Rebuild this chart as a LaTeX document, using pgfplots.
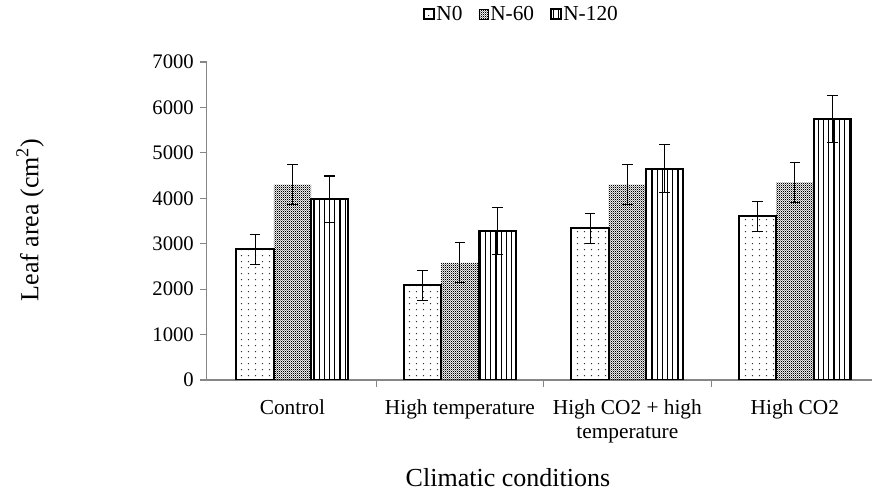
\documentclass[border=0pt]{standalone}
\usepackage{fontspec}
\setmainfont{Liberation Serif}
\usepackage{pgfplots}
\pgfplotsset{compat=1.18}
\usetikzlibrary{patterns}

% bar fills, as in the printed figure
\pgfdeclarepatternformonly{sparsedots}{\pgfpointorigin}{\pgfpoint{5pt}{4.5pt}}{\pgfpoint{5pt}{4.5pt}}{%
  \pgfpathcircle{\pgfpoint{1.2pt}{1.2pt}}{0.55pt}\pgfusepath{fill}}
\pgfdeclarepatternformonly{checker}{\pgfpointorigin}{\pgfpoint{1.6pt}{1.6pt}}{\pgfpoint{1.6pt}{1.6pt}}{%
  \pgfpathrectangle{\pgfpointorigin}{\pgfpoint{0.8pt}{0.8pt}}%
  \pgfpathrectangle{\pgfpoint{0.8pt}{0.8pt}}{\pgfpoint{0.8pt}{0.8pt}}\pgfusepath{fill}}
\pgfdeclarepatternformonly{vlines}{\pgfpoint{-1pt}{-1pt}}{\pgfpoint{4pt}{4pt}}{\pgfpoint{3.9pt}{4pt}}{%
  \pgfsetlinewidth{0.9pt}\pgfpathmoveto{\pgfpoint{1.5pt}{-1pt}}\pgfpathlineto{\pgfpoint{1.5pt}{5pt}}\pgfusepath{stroke}}

\definecolor{axisgray}{RGB}{134,134,134}

\pgfplotstableread{
x  n0   e0  n60  e60  n120 e120
0  2880 330 4300 440  3980 510
1  2090 330 2580 440  3280 520
2  3340 330 4300 440  4650 530
3  3600 330 4350 440  5740 520
}\leafdata

\begin{document}
\begin{tikzpicture}
\begin{axis}[
  at={(0pt,0pt)}, anchor=south west,
  scale only axis,
  width=499pt, height=238.5pt,
  ybar=0pt, bar width=28pt,
  xmin=-0.513, xmax=3.46,
  ymin=0, ymax=7000,
  enlarge x limits=false, enlarge y limits=false,
  axis x line*=bottom, axis y line*=left,
  axis line style={axisgray, line width=0.8pt},
  ytick distance=1000,
  scaled y ticks=false,
  /pgf/number format/1000 sep={},
  /pgf/number format/assume math mode=true,
  tick align=outside,
  major tick length=5pt,
  ytick style={axisgray, line width=0.8pt},
  y tick label style={font=\fontsize{15.5}{18}\selectfont, xshift=-1pt},
  xtick={0,1,2,3},
  xticklabels={Control, High temperature, {High CO2 + high\\temperature}, High CO2},
  x tick label style={font=\fontsize{16}{18.5}\selectfont, align=center, anchor=north, yshift=-6pt},
  xtick style={draw=none},
  extra x ticks={0.5,1.5,2.5},
  extra x tick labels={},
  extra x tick style={xtick style={draw=axisgray, line width=0.8pt}},
  xlabel={Climatic conditions},
  xlabel style={font=\fontsize{19.5}{22}\selectfont, at={(axis description cs:0.453,-0.308)}, anchor=center},
  ylabel={Leaf area (cm\textsuperscript{2})},
  ylabel style={font=\fontsize{19.5}{22}\selectfont, at={(axis description cs:-0.265,0.503)}, anchor=center, rotate=0},
  legend columns=3,
  legend style={draw=none, fill=none, font=\fontsize{16}{18}\selectfont,
    at={(axis description cs:0.474,1.151)}, anchor=center,
    /tikz/every even column/.append style={column sep=10pt},
    /tikz/every odd column/.append style={column sep=-1pt}},
  legend image code/.code={\draw[#1] (0pt,-3.7pt) rectangle (7.4pt,3.7pt);},
  error bars/y dir=both, error bars/y explicit,
  error bars/error bar style={black, line width=0.8pt},
  error bars/error mark options={rotate=90, mark size=4pt, black, line width=0.8pt},
]
\addplot[draw=black, line width=1.5pt, pattern=sparsedots, pattern color=black!80]
  table[x=x, y=n0, y error=e0] {\leafdata};
\addplot[draw=none, pattern=checker, pattern color=black]
  table[x=x, y=n60, y error=e60] {\leafdata};
\addplot[draw=black, line width=1.5pt, pattern=vlines, pattern color=black]
  table[x=x, y=n120, y error=e120] {\leafdata};
\legend{N0, N-60, N-120}
\end{axis}
\pgfresetboundingbox
\path[use as bounding box] (-154.9pt,-92.25pt) rectangle (499.1pt,285pt);
\end{tikzpicture}
\end{document}
